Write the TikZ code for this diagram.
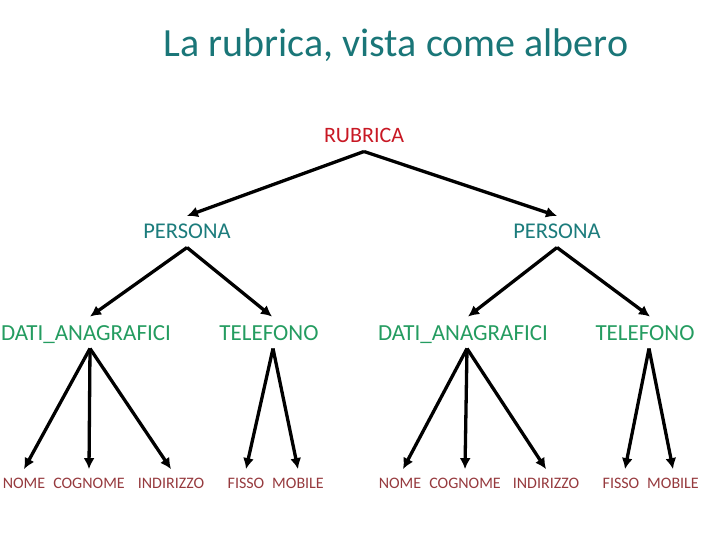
\documentclass[tikz,border=0pt]{standalone}
\usepackage{fontspec}
\setmainfont{Carlito}
\usetikzlibrary{arrows.meta}
\definecolor{TitleTeal}{RGB}{26,118,120}
\definecolor{RootRed}{RGB}{200,24,36}
\definecolor{PersonTeal}{RGB}{28,124,124}
\definecolor{GroupGreen}{RGB}{36,156,96}
\definecolor{LeafRed}{RGB}{150,58,62}

\begin{document}
\begin{tikzpicture}[x=1pt, y=-1pt,
    lbl/.style={inner sep=0pt, outer xsep=0pt, outer ysep=8.5pt, anchor=base, text depth=0pt},
    root/.style={lbl, text=RootRed, font=\fontsize{22}{26}\selectfont},
    person/.style={lbl, text=PersonTeal, font=\fontsize{22.5}{26}\selectfont},
    group/.style={lbl, text=GroupGreen, font=\fontsize{23}{26}\selectfont},
    leaf/.style={lbl, text=LeafRed, font=\fontsize{16}{19}\selectfont},
    arr/.style={-{Latex[length=11pt,width=11pt]}, line width=3.3pt}
]
    \useasboundingbox (0,0) rectangle (720,540);
    \node[lbl, text=TitleTeal, font=\fontsize{40}{46}\selectfont] (title) at (396,57) {La rubrica, vista come albero};

    \node[root] (rubrica) at (364,143) {RUBRICA};
    \node[person] (persA) at (187,239) {PERSONA};
    \node[person] (persB) at (557,239) {PERSONA};

    \node[group] (datiA) at (86,340) {DATI\_ANAGRAFICI};
    \node[group] (telA) at (269,340) {TELEFONO};
    \node[group] (datiB) at (463,340) {DATI\_ANAGRAFICI};
    \node[group] (telB) at (645,340) {TELEFONO};

    \node[leaf] (nomeA) at (24,488) {NOME};
    \node[leaf] (cognA) at (89,488) {COGNOME};
    \node[leaf] (indA) at (171,488) {INDIRIZZO};
    \node[leaf] (fissoA) at (246,488) {FISSO};
    \node[leaf] (mobA) at (298,488) {MOBILE};
    \node[leaf] (nomeB) at (400,488) {NOME};
    \node[leaf] (cognB) at (465,488) {COGNOME};
    \node[leaf] (indB) at (546,488) {INDIRIZZO};
    \node[leaf] (fissoB) at (621,488) {FISSO};
    \node[leaf] (mobB) at (673,488) {MOBILE};

    \draw[arr] (rubrica.south) -- (persA.north);
    \draw[arr] (rubrica.south) -- (persB.north);
    \draw[arr] (persA.south) -- ([xshift=4pt]datiA.north);
    \draw[arr] (persA.south) -- ([xshift=3pt]telA.north);
    \draw[arr] (persB.south) -- ([xshift=5pt]datiB.north);
    \draw[arr] (persB.south) -- ([xshift=5pt]telB.north);

    \draw[arr] ([xshift=4pt]datiA.south) -- (nomeA.north);
    \draw[arr] ([xshift=4pt]datiA.south) -- (cognA.north);
    \draw[arr] ([xshift=4pt]datiA.south) -- (indA.north);
    \draw[arr] ([xshift=4pt]telA.south) -- (fissoA.north);
    \draw[arr] ([xshift=4pt]telA.south) -- (mobA.north);
    \draw[arr] ([xshift=4pt]datiB.south) -- ([xshift=3pt]nomeB.north);
    \draw[arr] ([xshift=4pt]datiB.south) -- (cognB.north);
    \draw[arr] ([xshift=4pt]datiB.south) -- (indB.north);
    \draw[arr] ([xshift=4pt]telB.south) -- ([xshift=4pt]fissoB.north);
    \draw[arr] ([xshift=4pt]telB.south) -- (mobB.north);
\end{tikzpicture}
\end{document}
